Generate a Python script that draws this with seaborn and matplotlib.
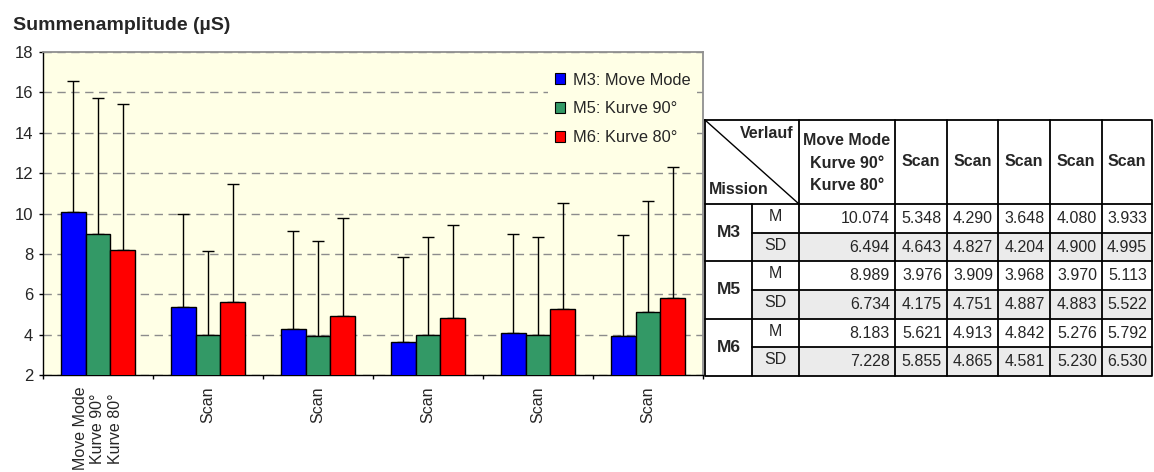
import numpy as np
import pandas as pd
import seaborn as sns
import matplotlib
matplotlib.use("Agg")
import matplotlib.pyplot as plt
from matplotlib.patches import Patch, Rectangle
from matplotlib import font_manager as fm

groups = ["Move Mode\nKurve 90°\nKurve 80°", "Scan", "Scan", "Scan", "Scan", "Scan"]
missions = ["M3", "M5", "M6"]
legend_labels = ["M3: Move Mode", "M5: Kurve 90°", "M6: Kurve 80°"]
m3_mean = [10.074, 5.348, 4.290, 3.648, 4.080, 3.933]
m3_sd = [6.494, 4.643, 4.827, 4.204, 4.900, 4.995]
m5_mean = [8.989, 3.976, 3.909, 3.968, 3.970, 5.113]
m5_sd = [6.734, 4.175, 4.751, 4.887, 4.883, 5.522]
m6_mean = [8.183, 5.621, 4.913, 4.842, 5.276, 5.792]
m6_sd = [7.228, 5.855, 4.865, 4.581, 5.230, 6.530]
colors = ["#0000FF", "#339966", "#FF0000"]
bg = "#FFFFE6"

sns.set_theme(style="white")
plt.rcParams["font.family"] = ["Liberation Sans", "DejaVu Sans"]

means_all = [m3_mean, m5_mean, m6_mean]
sds_all = [m3_sd, m5_sd, m6_sd]
order = [f"g{i}" for i in range(len(groups))]
rows = []
for hi, (mis, means, sds) in enumerate(zip(missions, means_all, sds_all)):
    for gi, (m, s) in enumerate(zip(means, sds)):
        rows.append({"pos": order[gi], "mission": mis, "mean": m, "sd": s, "gi": gi, "hi": hi})
df = pd.DataFrame(rows)

W, H = 1154, 472
fig = plt.figure(figsize=(W / 100, H / 100), dpi=100)


def px(l, t, r, b):
    return [l / W, 1 - b / H, (r - l) / W, (b - t) / H]


# --- bar chart ---
ax = fig.add_axes(px(43, 52, 703, 375))
ax.set_facecolor(bg)
sns.barplot(data=df, x="pos", y="mean", hue="mission", order=order, hue_order=missions,
            palette=colors, saturation=1, width=0.67, gap=0, edgecolor="black",
            linewidth=1, errorbar=None, legend=False, ax=ax)

bars = sorted(ax.patches, key=lambda p: p.get_x())
for p in bars:
    p.set_zorder(3)
dd = df.sort_values(["gi", "hi"])
xs = [p.get_x() + p.get_width() / 2 for p in bars]
ax.errorbar(xs, dd["mean"], yerr=[np.zeros(len(dd)), dd["sd"]], fmt="none",
            ecolor="black", elinewidth=1, capsize=4.3, capthick=1, zorder=2)

ax.set_ylim(2, 18)
ax.set_xlim(-0.5, len(groups) - 0.5)
ax.set_yticks(range(2, 19, 2))
ax.set_xticks(range(len(groups)))
ax.set_xticklabels(groups, rotation=90, fontsize=11.5)
ax.set_xticks(np.arange(-0.5, len(groups), 1), minor=True)
ax.tick_params(axis="x", which="major", length=0, pad=8.5)
ax.tick_params(axis="x", which="minor", length=3, width=1, color="black", direction="out", bottom=True)
ax.tick_params(axis="y", length=3, width=1, color="black", direction="out", left=True,
               labelsize=12, pad=4)
ax.set_xlabel("")
ax.set_ylabel("")
ax.set_axisbelow(True)
ax.yaxis.grid(True, color="#8c8c8c", linestyle=(0, (6, 4)), linewidth=1)
for s in ["left", "bottom"]:
    ax.spines[s].set_color("black")
    ax.spines[s].set_linewidth(1)
for s in ["top", "right"]:
    ax.spines[s].set_color("#909090")
    ax.spines[s].set_linewidth(1.3)

handles = [Patch(facecolor=c, edgecolor="black", linewidth=0.8) for c in colors]
ax.legend(handles, legend_labels, loc="upper left", bbox_to_anchor=(548 / W, 1 - 66 / H),
          bbox_transform=fig.transFigure, fontsize=11.8, frameon=True, facecolor=bg,
          edgecolor="none", framealpha=1, fancybox=False, handlelength=0.63,
          handleheight=0.63, handletextpad=0.5, labelspacing=0.85, borderpad=0.4,
          borderaxespad=0)

fig.text(13 / W, 1 - 25 / H, "Summenamplitude (µS)", fontsize=14, fontweight="bold",
         ha="left", va="center")

# --- table ---
names = {f.name for f in fm.fontManager.ttflist}
if "Liberation Sans Narrow" in names:
    tfam, tsz = ["Liberation Sans Narrow", "DejaVu Sans"], 13.5
else:
    tfam, tsz = ["Liberation Sans", "DejaVu Sans"], 11.5

tab = fig.add_axes(px(700, 115, 1154, 380))
tab.set_xlim(700, 1154)
tab.set_ylim(380, 115)
tab.axis("off")

cx = [705, 752, 799, 895, 947, 998, 1050, 1102, 1152]
ry = [120, 204, 232.7, 261.3, 290, 318.7, 347.3, 376]
lw = 1.3

for k in range(len(missions)):
    y0 = ry[2 + 2 * k]
    tab.add_patch(Rectangle((cx[1], y0), cx[-1] - cx[1], ry[3 + 2 * k] - y0,
                            facecolor="#EBEBEB", edgecolor="none", zorder=0))

tab.plot([cx[0], cx[-1], cx[-1], cx[0], cx[0]], [ry[0], ry[0], ry[-1], ry[-1], ry[0]],
         color="black", lw=lw)
for y in [ry[1], ry[3], ry[5]]:
    tab.plot([cx[0], cx[-1]], [y, y], color="black", lw=lw)
for y in [ry[2], ry[4], ry[6]]:
    tab.plot([cx[1], cx[-1]], [y, y], color="black", lw=lw)
for x in cx[2:-1]:
    tab.plot([x, x], [ry[0], ry[-1]], color="black", lw=lw)
tab.plot([cx[1], cx[1]], [ry[1], ry[-1]], color="black", lw=lw)
tab.plot([cx[0], cx[2]], [ry[0], ry[1]], color="black", lw=1)

tab.text(cx[2] - 5, ry[0] + 13, "Verlauf", fontfamily=tfam, fontsize=tsz,
         fontweight="bold", ha="right", va="center")
tab.text(cx[0] + 4, ry[1] - 15, "Mission", fontfamily=tfam, fontsize=tsz,
         fontweight="bold", ha="left", va="center")
hmid = (ry[0] + ry[1]) / 2
tab.text((cx[2] + cx[3]) / 2, hmid + 1, groups[0], fontfamily=tfam, fontsize=tsz,
         fontweight="bold", ha="center", va="center", linespacing=1.6)
for j in range(1, len(groups)):
    tab.text((cx[2 + j] + cx[3 + j]) / 2, hmid, groups[j], fontfamily=tfam,
             fontsize=tsz, fontweight="bold", ha="center", va="center")

for k, mis in enumerate(missions):
    tab.text((cx[0] + cx[1]) / 2, ry[2 + 2 * k], mis, fontfamily=tfam, fontsize=tsz + 1,
             fontweight="bold", ha="center", va="center")
    for r, (lab, vals) in enumerate([("M", means_all[k]), ("SD", sds_all[k])]):
        yc = (ry[1 + 2 * k + r] + ry[2 + 2 * k + r]) / 2
        tab.text((cx[1] + cx[2]) / 2, yc - 2, lab, fontfamily=tfam, fontsize=tsz,
                 ha="center", va="center")
        for j, v in enumerate(vals):
            tab.text(cx[3 + j] - 5, yc, f"{v:.3f}", fontfamily=tfam, fontsize=tsz,
                     ha="right", va="center")

fig.savefig("out.png", dpi=100, facecolor="white")
